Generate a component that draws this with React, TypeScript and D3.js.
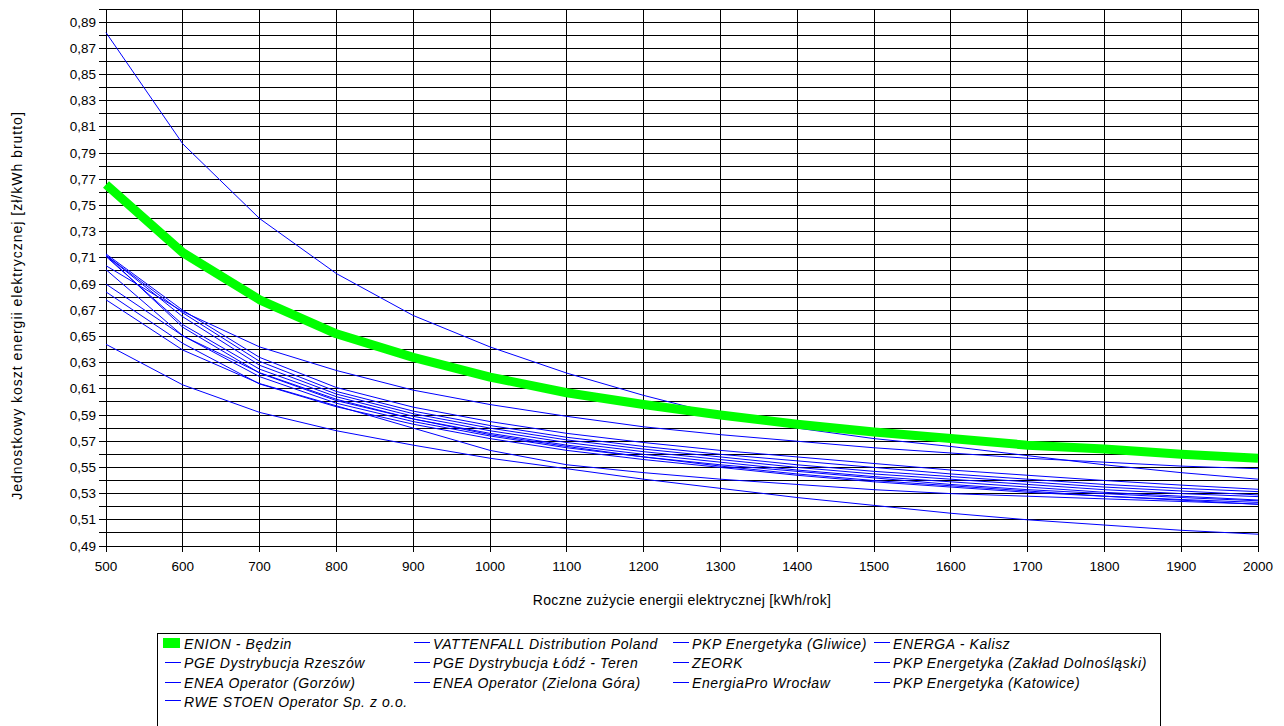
import React from "react";
import * as d3 from "d3";

const xValues = [500, 600, 700, 800, 900, 1000, 1100, 1200, 1300, 1400, 1500, 1600, 1700, 1800, 1900, 2000];
const xTicks = [500, 600, 700, 800, 900, 1000, 1100, 1200, 1300, 1400, 1500, 1600, 1700, 1800, 1900, 2000];
const yLabelTicks = [0.49, 0.51, 0.53, 0.55, 0.57, 0.59, 0.61, 0.63, 0.65, 0.67, 0.69, 0.71, 0.73, 0.75, 0.77, 0.79, 0.81, 0.83, 0.85, 0.87, 0.89];

const enionBedzin = [0.766, 0.714, 0.678, 0.652, 0.634, 0.619, 0.607, 0.598, 0.590, 0.583, 0.577, 0.572, 0.567, 0.564, 0.560, 0.557];
const vattenfall = [0.882, 0.797, 0.740, 0.698, 0.666, 0.642, 0.622, 0.605, 0.590, 0.580, 0.572, 0.566, 0.559, 0.552, 0.546, 0.541];
const pkpGliwice = [0.713, 0.670, 0.634, 0.611, 0.596, 0.585, 0.576, 0.569, 0.563, 0.558, 0.553, 0.548, 0.544, 0.540, 0.5365, 0.5333];
const energaKalisz = [0.704, 0.669, 0.642, 0.624, 0.609, 0.598, 0.589, 0.581, 0.575, 0.570, 0.565, 0.561, 0.557, 0.554, 0.551, 0.549];
const pgeRzeszow = [0.712, 0.668, 0.631, 0.608, 0.593, 0.582, 0.573, 0.566, 0.560, 0.555, 0.550, 0.545, 0.541, 0.537, 0.534, 0.5315];
const pgeLodz = [0.712, 0.665, 0.628, 0.606, 0.591, 0.580, 0.571, 0.564, 0.558, 0.552, 0.547, 0.543, 0.539, 0.535, 0.532, 0.529];
const zeork = [0.644, 0.613, 0.592, 0.578, 0.567, 0.557, 0.549, 0.541, 0.534, 0.527, 0.521, 0.515, 0.510, 0.506, 0.502, 0.499];
const pkpDolnoslaski = [0.711, 0.659, 0.625, 0.604, 0.589, 0.578, 0.569, 0.562, 0.556, 0.550, 0.545, 0.541, 0.537, 0.533, 0.530, 0.5277];
const eneaGorzow = [0.712, 0.657, 0.622, 0.601, 0.587, 0.576, 0.567, 0.560, 0.554, 0.548, 0.543, 0.539, 0.535, 0.531, 0.528, 0.5251];
const eneaZielonaGora = [0.701, 0.6505, 0.6193, 0.599, 0.585, 0.574, 0.565, 0.558, 0.552, 0.547, 0.542, 0.537, 0.533, 0.530, 0.527, 0.5245];
const energiaPro = [0.690, 0.6505, 0.6223, 0.602, 0.587, 0.575, 0.566, 0.558, 0.551, 0.545, 0.540, 0.536, 0.532, 0.528, 0.5255, 0.5233];
const pkpKatowice = [0.684, 0.6447, 0.6137, 0.5963, 0.583, 0.572, 0.563, 0.556, 0.550, 0.544, 0.539, 0.535, 0.531, 0.528, 0.525, 0.5218];
const rweStoen = [0.678, 0.6396, 0.614, 0.597, 0.580, 0.563, 0.552, 0.546, 0.541, 0.537, 0.533, 0.530, 0.528, 0.526, 0.524, 0.522];

const seriesNames = [
  "ENION - Będzin",
  "VATTENFALL Distribution Poland",
  "PKP Energetyka (Gliwice)",
  "ENERGA - Kalisz",
  "PGE Dystrybucja Rzeszów",
  "PGE Dystrybucja Łódź - Teren",
  "ZEORK",
  "PKP Energetyka (Zakład Dolnośląski)",
  "ENEA Operator (Gorzów)",
  "ENEA Operator (Zielona Góra)",
  "EnergiaPro Wrocław",
  "PKP Energetyka (Katowice)",
  "RWE STOEN Operator Sp. z o.o.",
];
const seriesValues = [
  enionBedzin, vattenfall, pkpGliwice, energaKalisz, pgeRzeszow, pgeLodz, zeork,
  pkpDolnoslaski, eneaGorzow, eneaZielonaGora, energiaPro, pkpKatowice, rweStoen,
];

const FONT = "'Liberation Sans', Arial, sans-serif";

export default function App() {
  const left = 106, right = 1258, top = 9, bottom = 546;
  const x = d3.scaleLinear().domain([500, 2000]).range([left, right]);
  const y = d3.scaleLinear().domain([0.49, 0.90]).range([bottom, top]);
  const yGrid = d3.range(49, 91).map((v) => v / 100);

  const line = d3
    .line<number>()
    .x((_, i) => x(xValues[i]))
    .y((d) => y(d));

  const legendCols = [184, 433, 692, 893];
  const legendRows = [644, 663, 683, 702];

  const order = seriesValues.map((_, i) => i).filter((i) => i !== 0).concat([0]);

  return (
    <div style={{ position: "absolute", left: 0, top: 0 }}>
      <svg width={1284} height={726} style={{ display: "block", background: "#fff" }} fontFamily={FONT}>
        <rect x={0} y={0} width={1284} height={726} fill="#fff" />
        <g shapeRendering="crispEdges">
          {yGrid.map((v) => (
            <line key={"h" + v} x1={left - 7} x2={right} y1={y(v)} y2={y(v)} stroke="#000" strokeWidth={1} />
          ))}
          {xTicks.map((t) => (
            <line key={"v" + t} x1={x(t)} x2={x(t)} y1={top} y2={bottom + 6} stroke="#000" strokeWidth={1} />
          ))}
        </g>
        <g fontSize={13.5} fill="#000">
          {yLabelTicks.map((v) => (
            <text key={"yl" + v} x={left - 10} y={y(v)} textAnchor="end" dominantBaseline="central">
              {v.toFixed(2).replace(".", ",")}
            </text>
          ))}
          {xTicks.map((t) => (
            <text key={"xl" + t} x={x(t)} y={566} textAnchor="middle" dominantBaseline="central">
              {t}
            </text>
          ))}
        </g>
        <g fontSize={14} fill="#000">
          <text x={(left + right) / 2} y={600} textAnchor="middle" dominantBaseline="central" letterSpacing={0.3}>
            Roczne zużycie energii elektrycznej [kWh/rok]
          </text>
          <text
            transform={`translate(17, ${(top + bottom) / 2 + 28}) rotate(-90)`}
            textAnchor="middle"
            dominantBaseline="central"
            letterSpacing={1}
          >
            Jednostkowy koszt energii elektrycznej [zł/kWh brutto]
          </text>
        </g>
        <g fill="none" strokeLinejoin="round">
          {order.map((i) => (
            <path
              key={"s" + i}
              d={line(seriesValues[i]) || ""}
              stroke={i === 0 ? "#00ff00" : "#0000ff"}
              strokeWidth={i === 0 ? 9 : 1}
            />
          ))}
        </g>
        <rect x={157.5} y={633.5} width={1003} height={100} fill="none" stroke="#000" strokeWidth={1} shapeRendering="crispEdges" />
        <g fontSize={14} fontStyle="italic" fill="#000" letterSpacing={0.6}>
          {seriesNames.map((name, i) => {
            const col = i % 4;
            const row = Math.floor(i / 4);
            const tx = legendCols[col];
            const ty = legendRows[row];
            const sy = Math.floor((ty - 1) / 2) * 2;
            return (
              <g key={"lg" + i}>
                {i === 0 ? (
                  <rect x={tx - 21} y={ty - 6} width={17} height={10} fill="#00ff00" />
                ) : (
                  <rect x={tx - 19} y={sy} width={16} height={1} fill="#0000ff" />
                )}
                <text x={tx} y={ty} dominantBaseline="central">
                  {name}
                </text>
              </g>
            );
          })}
        </g>
      </svg>
    </div>
  );
}
